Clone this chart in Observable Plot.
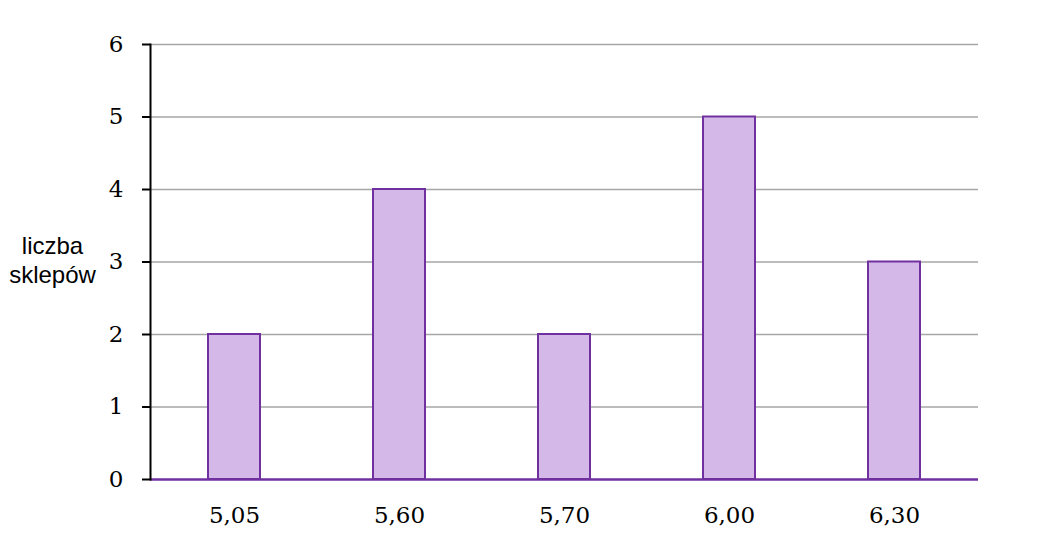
<!DOCTYPE html>
<html>
<head>
<meta charset="utf-8">
<script src="https://cdn.jsdelivr.net/npm/d3@7"></script>
<script src="https://cdn.jsdelivr.net/npm/@observablehq/plot@0.6"></script>
<style>
  html, body { margin: 0; padding: 0; background: #fff; }
</style>
</head>
<body>
<div id="chart"></div>
<script>
const prices = ["5,05", "5,60", "5,70", "6,00", "6,30"];
const counts = [2, 4, 2, 5, 3];
const yTicks = [0, 1, 2, 3, 4, 5, 6];
const gridTicks = [1, 2, 3, 4, 5, 6];
const yLabel = "liczba\nsklepów";

const data = prices.map((p, i) => ({price: p, count: counts[i]}));

const chart = Plot.plot({
  width: 1064,
  height: 534,
  marginLeft: 150,
  marginRight: 86,
  marginTop: 44,
  marginBottom: 55,
  style: {fontFamily: "DejaVu Serif", fontSize: "23px", color: "black", background: "white"},
  x: {domain: prices, paddingInner: 0.686, paddingOuter: 0.343, label: null},
  y: {domain: [0, 6], label: null},
  marks: [
    Plot.ruleY(gridTicks, {stroke: "#a6a6a6", strokeWidth: 1.5}),
    Plot.barY(data, {x: "price", y: "count", fill: "#d4b8e8", stroke: "#7030a0", strokeWidth: 2}),
    Plot.ruleY([0], {stroke: "#7030a0", strokeWidth: 2.5}),
    Plot.frame({anchor: "left", stroke: "black", strokeWidth: 2}),
    Plot.axisY({ticks: yTicks, tickSize: 8, tickPadding: 19, strokeWidth: 2, label: null, fontSize: 23, fontFamily: "DejaVu Serif", tickFormat: d => String(d)}),
    Plot.axisX({tickSize: 0, tickPadding: 27, label: null, fontSize: 23, fontFamily: "DejaVu Serif"}),
    Plot.text([yLabel], {frameAnchor: "left", dx: -98, dy: -3, textAnchor: "middle", lineHeight: 1.2, fontFamily: "Liberation Sans", fontSize: 24, fill: "black"})
  ]
});
document.getElementById("chart").appendChild(chart);
</script>
</body>
</html>
